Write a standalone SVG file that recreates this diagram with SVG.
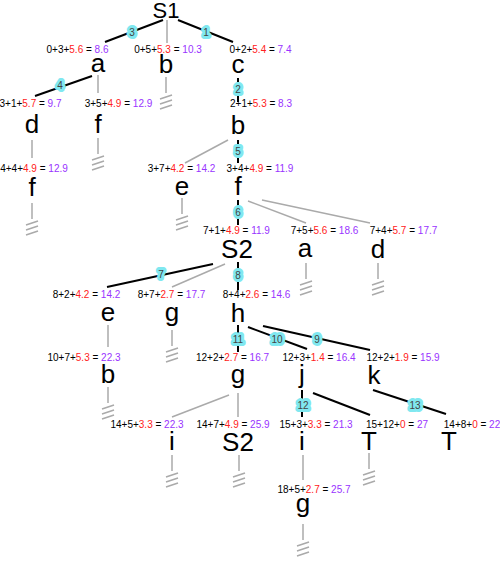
<svg xmlns="http://www.w3.org/2000/svg" width="500" height="568" viewBox="0 0 500 568">
<style>
.n{font-family:"Liberation Sans",Arial,sans-serif;font-size:26px;fill:#000;text-anchor:middle}
.l{font-family:"Liberation Sans",Arial,sans-serif;font-size:10px;fill:#000;text-anchor:middle}
.r{fill:#ff2020}
.p{fill:#9933ff}
.bk{stroke:#000;stroke-width:2;fill:none}
.gr{stroke:#aaa;stroke-width:1.5;fill:none}
.bd{font-family:"Liberation Sans",Arial,sans-serif;font-size:10px;fill:#444;text-anchor:middle;stroke:#80e8f0;stroke-width:6;stroke-linejoin:round;paint-order:stroke}
</style>
<defs>
<g id="gnd" class="gr">
<line x1="0" y1="0" x2="0" y2="16"/>
<line x1="-6" y1="22" x2="6" y2="18"/>
<line x1="-6" y1="27" x2="6" y2="23"/>
<line x1="-6" y1="32" x2="6" y2="28"/>
</g>
</defs>
<rect width="500" height="568" fill="#fff"/>
<g id="connectors">
<line class="bk" x1="163" y1="20" x2="105" y2="42"/>
<line class="bk" x1="178" y1="20" x2="233" y2="42"/>
<line class="bk" x1="92" y1="76" x2="35" y2="96"/>
<line class="bk" x1="238" y1="78" x2="238" y2="102"/>
<line class="bk" x1="238" y1="140" x2="238" y2="163"/>
<line class="bk" x1="238" y1="200" x2="238" y2="225"/>
<line class="bk" x1="213" y1="264" x2="107" y2="287"/>
<line class="bk" x1="238" y1="262" x2="238" y2="290"/>
<line class="bk" x1="238" y1="325" x2="238" y2="352"/>
<line class="bk" x1="248" y1="327" x2="307" y2="349"/>
<line class="bk" x1="263" y1="326" x2="370" y2="350"/>
<line class="bk" x1="302" y1="390" x2="302" y2="417"/>
<line class="bk" x1="313" y1="393" x2="370" y2="415"/>
<line class="bk" x1="373" y1="390" x2="446" y2="414"/>
<line class="gr" x1="167" y1="20" x2="167" y2="43"/>
<line class="gr" x1="98" y1="75" x2="98" y2="93"/>
<line class="gr" x1="32" y1="140" x2="32" y2="158"/>
<line class="gr" x1="228" y1="140" x2="185" y2="163"/>
<line class="gr" x1="248" y1="201" x2="306" y2="223"/>
<line class="gr" x1="262" y1="200" x2="370" y2="223"/>
<line class="gr" x1="225" y1="264" x2="172" y2="287"/>
<line class="gr" x1="108" y1="325" x2="108" y2="347"/>
<line class="gr" x1="229" y1="395" x2="172" y2="417"/>
<line class="gr" x1="238" y1="393" x2="238" y2="417"/>
<line class="gr" x1="303" y1="455" x2="303" y2="480"/>
<text class="bd" x="206" y="35.5">1</text>
<text class="bd" x="238" y="92.5">2</text>
<text class="bd" x="132" y="35.5">3</text>
<text class="bd" x="60" y="88.5">4</text>
<text class="bd" x="238" y="154.5">5</text>
<text class="bd" x="238" y="215.5">6</text>
<text class="bd" x="161" y="277.5">7</text>
<text class="bd" x="238" y="278.5">8</text>
<text class="bd" x="317" y="342.5">9</text>
<text class="bd" x="277" y="342.5">10</text>
<text class="bd" x="238" y="342.5">11</text>
<text class="bd" x="303" y="408.5">12</text>
<text class="bd" x="415" y="408.5">13</text>
</g>
<g id="n-S1"><text class="n" x="166" y="18" style="font-size:22px">S1</text></g>
<g id="n-a1"><text class="l" x="77.5" y="53">0+3+<tspan class="r">5.6</tspan> = <tspan class="p">8.6</tspan></text><text class="n" x="98" y="72">a</text></g>
<g id="n-b1"><text class="l" x="168" y="53">0+5+<tspan class="r">5.3</tspan> = <tspan class="p">10.3</tspan></text><text class="n" x="166" y="73">b</text><use href="#gnd" x="166" y="77"/></g>
<g id="n-c1"><text class="l" x="260.5" y="53">0+2+<tspan class="r">5.4</tspan> = <tspan class="p">7.4</tspan></text><text class="n" x="238" y="73">c</text></g>
<g id="n-d1"><text class="l" x="30.5" y="107">3+1+<tspan class="r">5.7</tspan> = <tspan class="p">9.7</tspan></text><text class="n" x="32" y="133">d</text></g>
<g id="n-f1"><text class="l" x="118.5" y="107">3+5+<tspan class="r">4.9</tspan> = <tspan class="p">12.9</tspan></text><text class="n" x="98" y="133">f</text><use href="#gnd" x="98" y="138"/></g>
<g id="n-b2"><text class="l" x="261" y="107">2+1+<tspan class="r">5.3</tspan> = <tspan class="p">8.3</tspan></text><text class="n" x="238" y="134">b</text></g>
<g id="n-f2"><text class="l" x="34" y="172">4+4+<tspan class="r">4.9</tspan> = <tspan class="p">12.9</tspan></text><text class="n" x="32" y="196">f</text><use href="#gnd" x="32" y="203"/></g>
<g id="n-e1"><text class="l" x="181.5" y="172">3+7+<tspan class="r">4.2</tspan> = <tspan class="p">14.2</tspan></text><text class="n" x="182" y="195">e</text><use href="#gnd" x="182" y="198"/></g>
<g id="n-f3"><text class="l" x="260" y="172">3+4+<tspan class="r">4.9</tspan> = <tspan class="p">11.9</tspan></text><text class="n" x="238" y="195">f</text></g>
<g id="n-S2a"><text class="l" x="236.5" y="234">7+1+<tspan class="r">4.9</tspan> = <tspan class="p">11.9</tspan></text><text class="n" x="237" y="258">S2</text></g>
<g id="n-a2"><text class="l" x="324.5" y="234">7+5+<tspan class="r">5.6</tspan> = <tspan class="p">18.6</tspan></text><text class="n" x="305" y="257">a</text><use href="#gnd" x="306" y="263"/></g>
<g id="n-d2"><text class="l" x="403.5" y="234">7+4+<tspan class="r">5.7</tspan> = <tspan class="p">17.7</tspan></text><text class="n" x="378" y="258">d</text><use href="#gnd" x="378" y="263"/></g>
<g id="n-e2"><text class="l" x="86.5" y="298">8+2+<tspan class="r">4.2</tspan> = <tspan class="p">14.2</tspan></text><text class="n" x="108" y="321">e</text></g>
<g id="n-g1"><text class="l" x="171.5" y="298">8+7+<tspan class="r">2.7</tspan> = <tspan class="p">17.7</tspan></text><text class="n" x="172" y="321">g</text><use href="#gnd" x="172" y="330"/></g>
<g id="n-h"><text class="l" x="256.5" y="298">8+4+<tspan class="r">2.6</tspan> = <tspan class="p">14.6</tspan></text><text class="n" x="238" y="322">h</text></g>
<g id="n-b3"><text class="l" x="84" y="361">10+7+<tspan class="r">5.3</tspan> = <tspan class="p">22.3</tspan></text><text class="n" x="108" y="383">b</text><use href="#gnd" x="108" y="387"/></g>
<g id="n-g2"><text class="l" x="232.5" y="361">12+2+<tspan class="r">2.7</tspan> = <tspan class="p">16.7</tspan></text><text class="n" x="238" y="383">g</text></g>
<g id="n-j"><text class="l" x="319" y="361">12+3+<tspan class="r">1.4</tspan> = <tspan class="p">16.4</tspan></text><text class="n" x="302" y="383">j</text></g>
<g id="n-k"><text class="l" x="403" y="361">12+2+<tspan class="r">1.9</tspan> = <tspan class="p">15.9</tspan></text><text class="n" x="374" y="384">k</text></g>
<g id="n-i1"><text class="l" x="147" y="428">14+5+<tspan class="r">3.3</tspan> = <tspan class="p">22.3</tspan></text><text class="n" x="172" y="450">i</text><use href="#gnd" x="172" y="455"/></g>
<g id="n-S2b"><text class="l" x="233" y="428">14+7+<tspan class="r">4.9</tspan> = <tspan class="p">25.9</tspan></text><text class="n" x="238" y="451">S2</text><use href="#gnd" x="239" y="455"/></g>
<g id="n-i2"><text class="l" x="316" y="428">15+3+<tspan class="r">3.3</tspan> = <tspan class="p">21.3</tspan></text><text class="n" x="302" y="450">i</text></g>
<g id="n-T1"><text class="l" x="397" y="428">15+12+<tspan class="r">0</tspan> = <tspan class="p">27</tspan></text><text class="n" x="369" y="450">T</text><use href="#gnd" x="369" y="453"/></g>
<g id="n-T2"><text class="l" x="472" y="428">14+8+<tspan class="r">0</tspan> = <tspan class="p">22</tspan></text><text class="n" x="449" y="450">T</text></g>
<g id="n-g3"><text class="l" x="314" y="493">18+5+<tspan class="r">2.7</tspan> = <tspan class="p">25.7</tspan></text><text class="n" x="303" y="512">g</text><use href="#gnd" x="303" y="524"/></g>
</svg>
